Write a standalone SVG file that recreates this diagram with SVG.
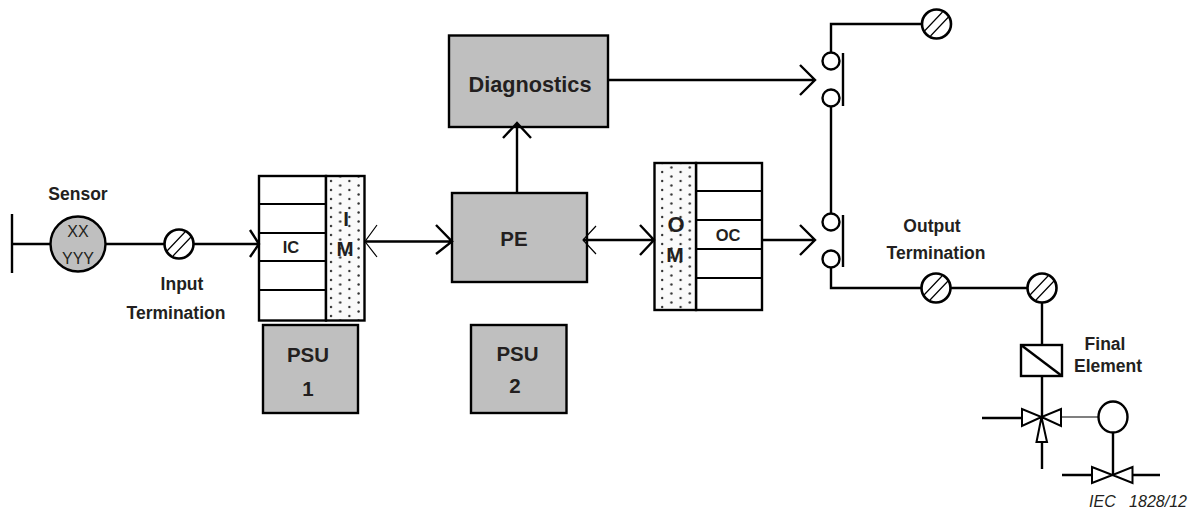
<svg xmlns="http://www.w3.org/2000/svg" width="1194" height="511" viewBox="0 0 1194 511">
<style>
text{font-family:"Liberation Sans",Arial,sans-serif;fill:#231f20;text-anchor:middle}
.b{font-weight:bold;font-size:17.5px}
.s{font-weight:bold;font-size:16.5px}
.h{font-weight:bold;font-size:20.5px}
.l{fill:none;stroke:#000;stroke-width:2.4}
.r{fill:none;stroke:#000;stroke-width:2}
.t{fill:none;stroke:#000;stroke-width:1.2}
.g{fill:#bfbfbf;stroke:#000;stroke-width:2.4}
.w{fill:#fff;stroke:#000;stroke-width:2.4}
.d{fill:url(#dots);stroke:#000;stroke-width:2.4}
</style>
<defs>
<pattern id="dots" width="18.4" height="18" patternUnits="userSpaceOnUse" x="328" y="178">
<rect width="18.4" height="18" fill="#fafafa"/>
<circle cx="3" cy="3" r="1.2" fill="#333"/><circle cx="3" cy="12" r="1.2" fill="#333"/>
<circle cx="12.200" cy="7.500" r="1.2" fill="#333"/><circle cx="12.200" cy="16.500" r="1.2" fill="#333"/>
</pattern>
<g id="term"><circle r="14.500" cx="0" cy="0" fill="#fff" stroke="#000" stroke-width="2.6"/><path class="t" d="M-12 7L6-12M-6 12L12-7"/></g>
</defs>
<g id="sensor"><circle cx="78" cy="244" r="27.500" class="g"/>
<text x="78" y="237" font-size="16">XX</text><text x="78" y="264" font-size="16">YYY</text>
<text class="b" x="78" y="200">Sensor</text></g>
<g id="input-termination"><use href="#term" x="179" y="244"/>
<text class="b" x="182" y="290">Input</text><text class="b" x="176" y="319">Termination</text></g>
<g id="ic"><rect x="259" y="176" width="67" height="144.500" class="w"/>
<path class="r" d="M259 204H326M259 233H326M259 261H326M259 290H326"/>
<text class="s" x="291" y="253">IC</text></g>
<g id="im"><rect x="326" y="176" width="38.500" height="144.500" class="d"/>
<text class="h" x="346" y="225.500">I</text><text class="h" x="345" y="256">M</text></g>
<g id="psu1"><rect x="263" y="325" width="95" height="88" class="g"/>
<text class="h" x="308" y="362">PSU</text><text class="h" x="308" y="396">1</text></g>
<g id="psu2"><rect x="471" y="325" width="95.500" height="88" class="g"/>
<text class="h" x="517.500" y="361">PSU</text><text class="h" x="515" y="393">2</text></g>
<g id="pe"><rect x="452" y="193" width="135" height="89" class="g"/>
<text class="h" x="514" y="246">PE</text></g>
<g id="diagnostics"><rect x="449" y="35.500" width="159" height="91.500" class="g"/>
<text x="530" y="92" font-size="21.700" font-weight="bold">Diagnostics</text></g>
<g id="oc"><rect x="696" y="163" width="66" height="147" class="w"/>
<path class="r" d="M696 191H762M696 220H762M696 249H762M696 278H762"/>
<text class="s" x="728" y="241">OC</text></g>
<g id="om"><rect x="654.500" y="163" width="41.500" height="147" class="d"/>
<text x="676" y="232" font-size="22" font-weight="bold">O</text><text x="675" y="262" font-size="21" font-weight="bold">M</text></g>
<g id="contact-top"><circle cx="831" cy="61" r="8.500" class="w"/><circle cx="831" cy="98" r="8.500" class="w"/><path class="l" d="M843 53V106"/></g>
<g id="contact-bottom"><circle cx="831" cy="222" r="8.500" class="w"/><circle cx="831" cy="259" r="8.500" class="w"/><path class="l" d="M843 215V267"/></g>
<g id="term-top"><use href="#term" x="936.500" y="24"/></g>
<g id="output-termination"><use href="#term" x="936" y="288"/>
<text class="b" x="932" y="232">Output</text><text class="b" x="936" y="259">Termination</text></g>
<g id="term-final"><use href="#term" x="1042" y="288"/></g>
<g id="solenoid"><rect x="1021" y="345" width="41" height="31" class="w"/><path class="l" d="M1021 345L1062 376"/></g>
<g id="final-element"><text class="b" x="1105" y="350">Final</text><text class="b" x="1108" y="372">Element</text></g>
<g id="valve"><path class="r" d="M1022 409V426L1041.500 417ZM1061 409V426L1041.500 417ZM1041.500 417L1036.500 442H1047Z"/></g>
<g id="actuator"><ellipse cx="1113" cy="417" rx="14.500" ry="15.500" class="w"/></g>
<g id="valve2"><path class="r" d="M1092 467V483L1112.500 475ZM1132.500 467V483L1112.500 475Z"/></g>
<text x="1138" y="507" font-size="16" font-style="italic" xml:space="preserve">IEC   1828/12</text>
<g id="connectors">
<path class="l" d="M12 214V273M12 244H51M105 244H165M194 244H258M250 230L259 244L250 257"/>
<path class="l" d="M366 241.500H452M436 225L452 241.500L436 254"/>
<path class="t" d="M377 225L365 241.500L377 257"/>
<path class="l" d="M517 193V123M503 138L517 123L531 138"/>
<path class="l" d="M608 80H814M800 65L815 80L800 95"/>
<path class="l" d="M583 240H654M640 225L654 240L640 255"/>
<path class="t" d="M596 226L583 240L596 254"/>
<path class="l" d="M763 240H814M800 225L815 240L800 255"/>
<path class="l" d="M831 52.500V24H922M831 107V213.500M831 268V288H921.500M950.500 288H1027.500M1042 302.500V345M1042 376V417M1042 442V469M982 418H1022M1062 475H1092M1132.500 475H1160M1113 432.500V475"/>
<path class="t" d="M1061 417H1098.500"/>
</g>
</svg>
